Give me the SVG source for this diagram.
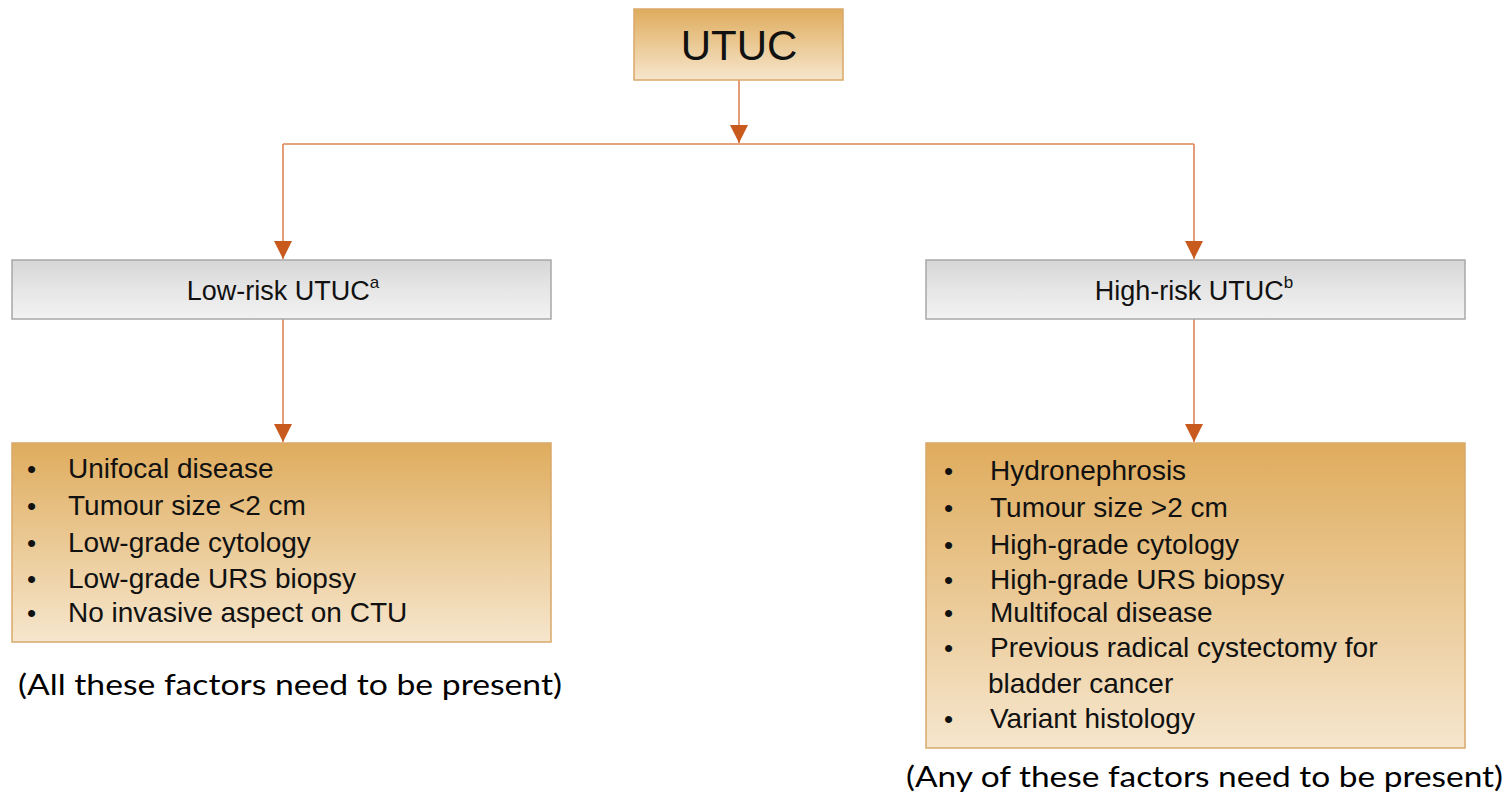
<svg xmlns="http://www.w3.org/2000/svg" width="1512" height="794" viewBox="0 0 1512 794">
<style>
.lbl{font-family:"Liberation Sans",Arial,sans-serif;fill:#111}
.bul{font-family:"Liberation Sans",Arial,sans-serif;fill:#111;font-size:26px}
.cap{font-family:Lato,"Open Sans",sans-serif;fill:#000;font-size:28px}
.conn{stroke:#dc8555;stroke-width:1.6;fill:none}
.gold{fill:url(#gold);stroke:#d9a86a;stroke-width:1.5}
.gray{fill:url(#gray);stroke:#a8a8a8;stroke-width:1.5}
</style>
<defs>
<linearGradient id="gold" x1="0" y1="0" x2="0" y2="1">
<stop offset="0" stop-color="#dfac5d"/>
<stop offset="1" stop-color="#f6e6cd"/>
</linearGradient>
<linearGradient id="gray" x1="0" y1="0" x2="0" y2="1">
<stop offset="0" stop-color="#d6d6d6"/>
<stop offset="0.5" stop-color="#e6e6e6"/>
<stop offset="1" stop-color="#f2f2f2"/>
</linearGradient>
<marker id="arr" markerWidth="18" markerHeight="18" refX="18" refY="9" orient="auto" markerUnits="userSpaceOnUse">
<path d="M0,0 L18,9 L0,18 Z" fill="#c75a1c"/>
</marker>
</defs>
<g id="connectors">
<path class="conn" d="M739,80 V143" marker-end="url(#arr)"/>
<path class="conn" d="M283,144 H1194"/>
<path class="conn" d="M283,144 V259" marker-end="url(#arr)"/>
<path class="conn" d="M1194,144 V259" marker-end="url(#arr)"/>
<path class="conn" d="M283,319 V442" marker-end="url(#arr)"/>
<path class="conn" d="M1194,319 V442" marker-end="url(#arr)"/>
</g>
<g id="utuc">
<rect class="gold" x="634" y="9" width="209" height="71"/>
<text class="lbl" x="739" y="60" font-size="42" text-anchor="middle">UTUC</text>
</g>
<g id="low-risk">
<rect class="gray" x="12" y="260" width="539" height="59"/>
<text class="lbl" x="283" y="300" font-size="27" text-anchor="middle">Low-risk UTUC<tspan font-size="17" dy="-12">a</tspan></text>
</g>
<g id="high-risk">
<rect class="gray" x="926" y="260" width="539" height="59"/>
<text class="lbl" x="1194" y="300" font-size="27" text-anchor="middle">High-risk UTUC<tspan font-size="17" dy="-12">b</tspan></text>
</g>
<g id="low-factors">
<rect class="gold" x="12" y="443" width="539" height="199"/>
<g class="bul">
<text x="27" y="478">•</text><text x="27" y="515">•</text><text x="27" y="552">•</text><text x="27" y="588">•</text><text x="27" y="622">•</text>
</g>
<g class="lbl" font-size="28">
<text x="68" y="478">Unifocal disease</text>
<text x="68" y="515">Tumour size &lt;2 cm</text>
<text x="68" y="552">Low-grade cytology</text>
<text x="68" y="588">Low-grade URS biopsy</text>
<text x="68" y="622">No invasive aspect on CTU</text>
</g>
</g>
<g id="high-factors">
<rect class="gold" x="926" y="443" width="539" height="305"/>
<g class="bul">
<text x="944" y="480">•</text><text x="944" y="517">•</text><text x="944" y="554">•</text><text x="944" y="589">•</text><text x="944" y="622">•</text><text x="944" y="657">•</text><text x="944" y="728">•</text>
</g>
<g class="lbl" font-size="28">
<text x="990" y="480">Hydronephrosis</text>
<text x="990" y="517">Tumour size &gt;2 cm</text>
<text x="990" y="554">High-grade cytology</text>
<text x="990" y="589">High-grade URS biopsy</text>
<text x="990" y="622">Multifocal disease</text>
<text x="990" y="657">Previous radical cystectomy for</text>
<text x="988" y="693">bladder cancer</text>
<text x="990" y="728">Variant histology</text>
</g>
</g>
<g id="notes">
<text class="cap" x="18" y="695" textLength="544" lengthAdjust="spacingAndGlyphs">(All these factors need to be present)</text>
<text class="cap" x="906" y="787" textLength="597" lengthAdjust="spacingAndGlyphs">(Any of these factors need to be present)</text>
</g>
</svg>
